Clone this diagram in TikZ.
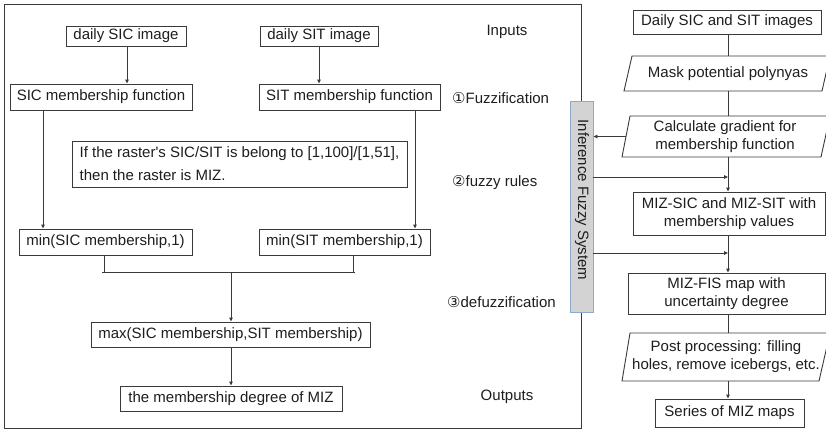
\documentclass[tikz,border=0pt]{standalone}
\usepackage{fontspec}
\setmainfont{Liberation Sans}[Ligatures=TeXOff]
\newfontfamily\dejavu{DejaVu Sans}
\usetikzlibrary{arrows.meta,calc}
\definecolor{linec}{HTML}{3A3A3A}
\definecolor{textc}{HTML}{1E1E1E}
\definecolor{infill}{HTML}{D3D3D3}
\definecolor{inborder}{HTML}{8EAACB}
\begin{document}
\begin{tikzpicture}[x=1pt,y=-1pt,
  font=\fontsize{15}{18}\selectfont,
  box/.style={draw=linec, line width=0.9pt, fill=white, inner sep=0pt, text=textc, align=center},
  ghost/.style={inner sep=0pt, text=textc, align=center},
  lbl/.style={inner sep=0pt, text=textc},
  arr/.style={draw=linec, line width=0.9pt, -{Triangle[length=4pt,width=3.5pt]}},
  ln/.style={draw=linec, line width=0.9pt},
  pline/.style={draw=linec, line width=0.9pt, fill=white}]
\useasboundingbox (0,0) rectangle (826,431);
% outer frame
\draw[ln] (4,4) rectangle (581,428);
% left boxes
\node[box, minimum width=120, minimum height=20] (sicimg) at (126,36) {daily SIC image};
\node[box, minimum width=118, minimum height=20] (sitimg) at (319,36) {daily SIT image};
\node[box, minimum width=182, minimum height=26] (sicmf) at (101,97) {SIC membership function};
\node[box, minimum width=181, minimum height=26] (sitmf) at (349.5,97) {SIT membership function};
\node[box, minimum width=335, minimum height=46, align=left, font=\fontsize{15}{23}\selectfont] (rules) at (239.5,164) {If the raster's SIC/SIT is belong to [1,100]/[1,51],\\then the raster is MIZ.};
\node[box, minimum width=173, minimum height=26] (minsic) at (105.5,242) {min(SIC membership,1)};
\node[box, minimum width=171, minimum height=26] (minsit) at (344.5,242) {min(SIT membership,1)};
\node[box, minimum width=279, minimum height=25] (maxn) at (230.5,334.5) {max(SIC membership,SIT membership)};
\node[box, minimum width=222, minimum height=25] (degree) at (231,398.5) {the membership degree of MIZ};
% left connectors
\draw[arr] (sicimg.south -| 127,0) -- (sicmf.north -| 127,0);
\draw[arr] (sitimg.south) -- (sitmf.north -| sitimg.south);
\draw[arr] (sicmf.south -| 43,0) -- (minsic.north -| 43,0);
\draw[arr] (sitmf.south -| 415,0) -- (minsit.north -| 415,0);
\coordinate (jl) at (104,272);
\coordinate (jr) at (353,272);
\coordinate (jm) at (231,272);
\draw[ln] (minsic.south -| jl) -- (jl);
\draw[ln] (minsit.south -| jr) -- (jr);
\draw[ln] ($(jl)+(-2,0)$) -- ($(jr)+(2,0)$);
\draw[arr] (jm) -- (maxn.north -| jm);
\draw[arr] (maxn.south -| jm) -- (degree.north -| jm);
% stage labels
\node[lbl] (inputs) at (507,32) {Inputs};
\node[lbl, anchor=west] (fuzz) at (452,98) {{\dejavu ①}Fuzzification};
\node[lbl, anchor=west] (frules) at (452,183) {{\dejavu ②}fuzzy rules};
\node[lbl, anchor=west] (defuzz) at (447,302) {{\dejavu ③}defuzzification};
\node[lbl] (outputs) at (507,397) {Outputs};
% inference fuzzy system
\node[draw=inborder, fill=infill, line width=0.9pt, minimum width=23, minimum height=211, inner sep=0pt] (inf) at (581.5,206.5) {};
\node[lbl, rotate=-90] (inflabel) at (582,200) {Inference Fuzzy System};
% right flow
\node[box, minimum width=188, minimum height=24] (daily) at (727,22) {Daily SIC and SIT images};
\draw[pline] (632,56) -- (830,56) -- (822,91) -- (624,91) -- cycle;
\node[ghost, minimum width=198, minimum height=35] (mask) at (728,73.5) {Mask potential polynyas};
\draw[pline] (630,116) -- (830,116) -- (821,157) -- (622,157) -- cycle;
\node[ghost, minimum width=198, minimum height=41] (calc) at (725,136.5) {Calculate gradient for\\membership function};
\node[box, minimum width=192, minimum height=43] (mizsic) at (729,213.5) {MIZ-SIC and MIZ-SIT with\\membership values};
\node[box, minimum width=197, minimum height=41] (mizfis) at (726.5,293.5) {MIZ-FIS map with\\uncertainty degree};
\draw[pline] (630,333) -- (830,333) -- (819,381) -- (622,381) -- cycle;
\node[ghost, minimum width=198, minimum height=48] (post) at (726,357) {Post processing: filling\\holes, remove icebergs, etc.};
\node[box, minimum width=149, minimum height=28] (series) at (729.5,413) {Series of MIZ maps};
% right connectors
\coordinate (cx) at (728,0);
\draw[ln] (daily.south -| cx) -- (mask.north -| cx);
\draw[ln] (mask.south -| cx) -- (calc.north -| cx);
\draw[arr] (calc.south -| cx) -- (mizsic.north -| cx);
\draw[arr] (mizsic.south -| cx) -- (mizfis.north -| cx);
\draw[ln] (mizfis.south -| cx) -- (post.north -| cx);
\draw[arr] (post.south -| cx) -- (series.north -| cx);
\draw[arr] (calc.west) -- (inf.east |- calc.west);
\draw[arr] (inf.east |- 0,177) -- (cx |- 0,177);
\draw[arr] (inf.east |- 0,253) -- (cx |- 0,253);
\end{tikzpicture}
\end{document}
